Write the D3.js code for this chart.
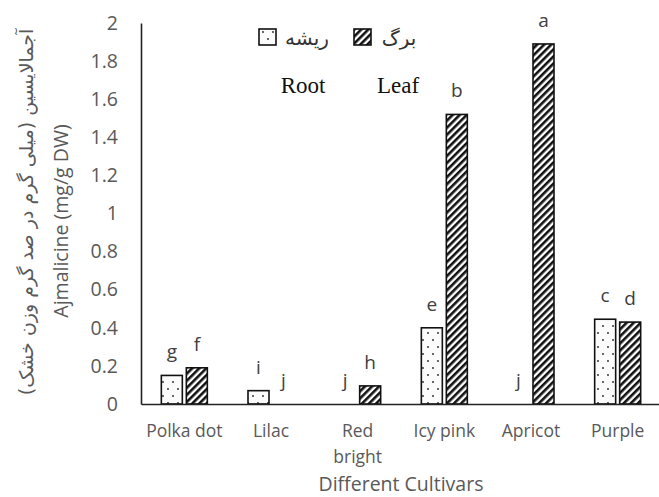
<!DOCTYPE html>
<html><head><meta charset="utf-8">
<script src="https://cdn.jsdelivr.net/npm/d3@7"></script>
<style>body{margin:0;background:#fff}</style>
</head><body>
<script>
const categories = ["Polka dot","Lilac","Red bright","Icy pink","Apricot","Purple"];
const rootValues = [0.15, 0.07, 0, 0.40, 0, 0.445];
const leafValues = [0.19, 0, 0.095, 1.52, 1.89, 0.43];
const rootLetters = ["g","i","j","e","j","c"];
const leafLetters = ["f","j","h","b","a","d"];
const yTicks = [0,0.2,0.4,0.6,0.8,1,1.2,1.4,1.6,1.8,2];
const seriesKeys = ["root","leaf"];

const W=659,H=497;
const svg=d3.select("body").append("svg").attr("width",W).attr("height",H);
const defs=svg.append("defs");
const pd=defs.append("pattern").attr("id","dots").attr("patternUnits","userSpaceOnUse")
  .attr("width",10).attr("height",14);
pd.append("rect").attr("width",10).attr("height",14).attr("fill","#fbfbfb");
pd.append("circle").attr("cx",3).attr("cy",4).attr("r",0.9).attr("fill","#222");
pd.append("circle").attr("cx",8).attr("cy",11).attr("r",0.9).attr("fill","#222");
const ph=defs.append("pattern").attr("id","hatch").attr("patternUnits","userSpaceOnUse")
  .attr("width",5).attr("height",5).attr("patternTransform","rotate(45)");
ph.append("rect").attr("width",5).attr("height",5).attr("fill","#fff");
ph.append("rect").attr("width",2.6).attr("height",5).attr("fill","#111");

const x=d3.scaleBand().domain(categories).range([141,661]);
const x1=d3.scaleBand().domain(seriesKeys).range([x.bandwidth()/2-23,x.bandwidth()/2+23]).paddingInner(0.16);
const y=d3.scaleLinear().domain([0,2]).range([404,23]);

const font="'Open Sans', sans-serif";
// y axis
const ya=svg.append("g").attr("transform","translate(141,0)")
  .call(d3.axisLeft(y).tickValues(yTicks).tickSize(0).tickPadding(23).tickFormat(d3.format("~g")));
ya.select(".domain").attr("stroke","#222").attr("stroke-width",1.6);
ya.selectAll("text").attr("font-family",font).attr("font-size",19.5).attr("fill","#595959");

// bars
const data=categories.map((c,i)=>({c,root:rootValues[i],leaf:leafValues[i],rl:rootLetters[i],ll:leafLetters[i]}));
const g=svg.append("g");
data.forEach(d=>{
  seriesKeys.forEach(k=>{
    const v=d[k];
    if(v>0){
      g.append("rect").attr("x",x(d.c)+x1(k)).attr("y",y(v)).attr("width",x1.bandwidth())
        .attr("height",y(0)-y(v)).attr("fill",k==="root"?"url(#dots)":"url(#hatch)")
        .attr("stroke","#111").attr("stroke-width",1.6);
    }
    g.append("text").attr("x",x(d.c)+x1(k)+x1.bandwidth()/2).attr("y",y(v)-17)
      .attr("text-anchor","middle").attr("font-family",font).attr("font-size",19).attr("fill","#404040")
      .text(k==="root"?d.rl:d.ll);
  });
});

// x axis
const xa=svg.append("g").attr("transform","translate(0,404)")
  .call(d3.axisBottom(x).tickSize(0).tickPadding(0).tickFormat(()=>""));
xa.select(".domain").attr("stroke","#222").attr("stroke-width",1.6);
xa.selectAll(".tick").each(function(c){
  const t=d3.select(this).select("text").attr("font-family",font).attr("font-size",17.5).attr("fill","#595959")
    .attr("text-anchor","middle").attr("y",0).attr("dy",0);
  const words=c==="Red bright"?["Red","bright"]:[c];
  words.forEach((w,i)=>t.append("tspan").attr("x",0).attr("y",33+i*26).text(w));
});

// axis titles
svg.append("text").attr("x",401).attr("y",491).attr("text-anchor","middle")
  .attr("font-family",font).attr("font-size",19.5).attr("fill","#595959").text("Different Cultivars");
svg.append("text").attr("transform","translate(68,221) rotate(-90)").attr("text-anchor","middle")
  .attr("font-family",font).attr("font-size",19.5).attr("fill","#595959").text("Ajmalicine (mg/g DW)");
svg.append("text").attr("transform","translate(33,212) rotate(-90)").attr("text-anchor","middle")
  .attr("font-family","'DejaVu Sans', sans-serif").attr("font-size",19).attr("fill","#595959")
  .text("آجمالایسین (میلی گرم در صد گرم وزن خشک)");

// legend
const lg=svg.append("g");
lg.append("rect").attr("x",259).attr("y",29).attr("width",17).attr("height",16).attr("fill","url(#dots)").attr("stroke","#111").attr("stroke-width",1.6);
lg.append("text").attr("x",307).attr("y",45).attr("text-anchor","middle").attr("font-family","'DejaVu Sans', sans-serif").attr("font-size",20).attr("fill","#333").text("ریشه");
lg.append("rect").attr("x",354).attr("y",29).attr("width",17).attr("height",16).attr("fill","url(#hatch)").attr("stroke","#111").attr("stroke-width",1.6);
lg.append("text").attr("x",399).attr("y",45).attr("text-anchor","middle").attr("font-family","'DejaVu Sans', sans-serif").attr("font-size",20).attr("fill","#333").text("برگ");
lg.append("text").attr("x",303).attr("y",93).attr("text-anchor","middle").attr("font-family","'Liberation Serif', serif").attr("font-size",23).attr("fill","#111").text("Root");
lg.append("text").attr("x",398).attr("y",93).attr("text-anchor","middle").attr("font-family","'Liberation Serif', serif").attr("font-size",23).attr("fill","#111").text("Leaf");
</script>
</body></html>
